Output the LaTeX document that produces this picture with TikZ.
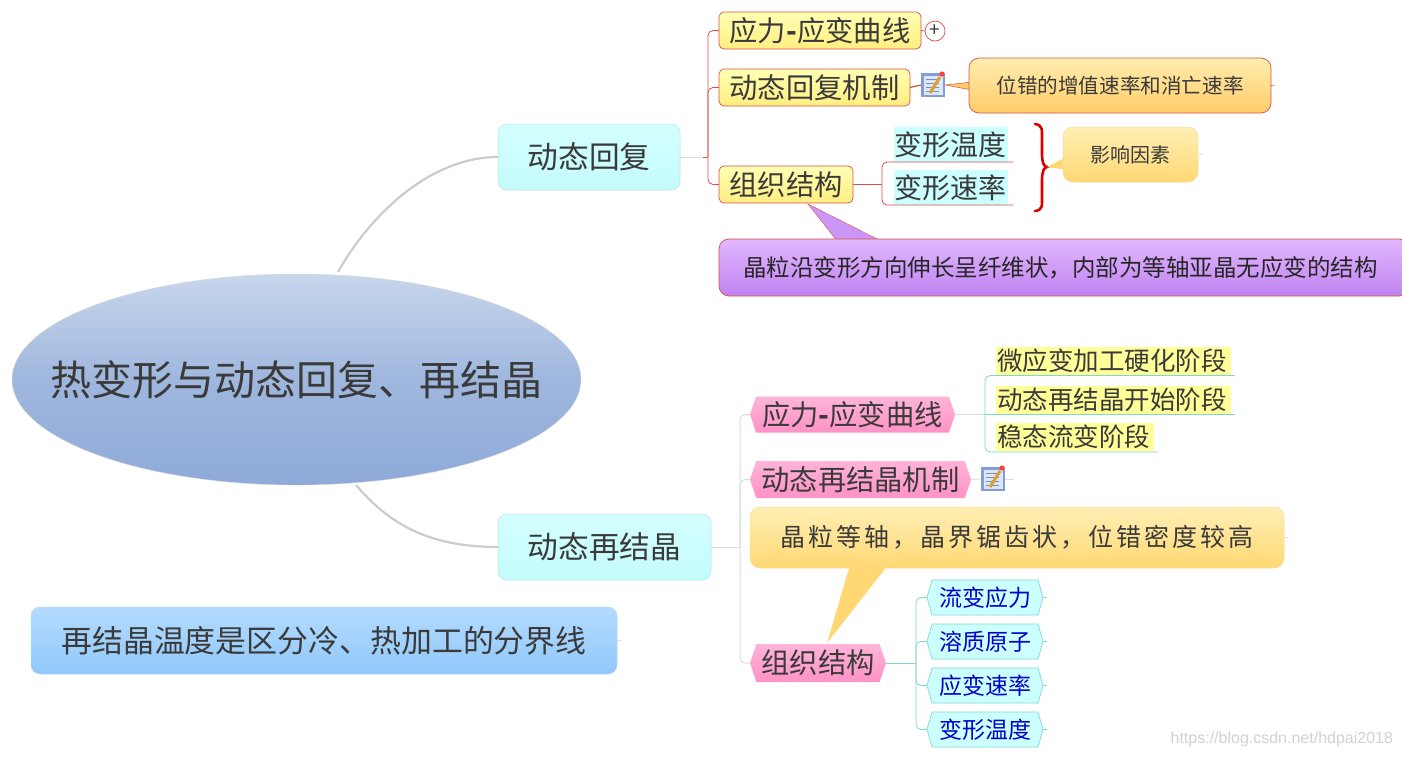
\documentclass[tikz,border=0pt]{standalone}
\usepackage{fontspec}
\setmainfont{Noto Sans CJK SC}
\newfontfamily\spaced[LetterSpace=12]{Noto Sans CJK SC}
\newfontfamily\latinwm{Liberation Sans}
\usetikzlibrary{shapes.geometric,shapes.symbols}
\definecolor{txt}{HTML}{3A3A3A}
\definecolor{redl}{HTML}{D8504A}
\definecolor{grayl}{HTML}{D9DEDE}
\definecolor{teall}{HTML}{7FD8D0}
\definecolor{cyantop}{HTML}{D4FFFF}
\definecolor{cyanbot}{HTML}{C4FBFB}
\definecolor{cyanedge}{HTML}{B4E4E4}
\definecolor{cyanfill}{HTML}{CCFFFF}
\definecolor{yeltop}{HTML}{FFFFB4}
\definecolor{yelbot}{HTML}{FFEE80}
\definecolor{oratop}{HTML}{FFEDB0}
\definecolor{orabot}{HTML}{FFCC68}
\definecolor{orbtop}{HTML}{FFEFB4}
\definecolor{orbbot}{HTML}{FFD874}
\definecolor{orbedge}{HTML}{F2DE9C}
\definecolor{purtop}{HTML}{E2B8FF}
\definecolor{purbot}{HTML}{BF82F0}
\definecolor{purtail}{HTML}{CB96F6}
\definecolor{pinktop}{HTML}{FFB4D8}
\definecolor{pinkbot}{HTML}{FF92C6}
\definecolor{eltop}{HTML}{C8D6EC}
\definecolor{elbot}{HTML}{8EAAD8}
\definecolor{bluetop}{HTML}{B4DBFF}
\definecolor{bluebot}{HTML}{90C8FA}
\definecolor{softyel}{HTML}{FFFF99}
\definecolor{iconframe}{HTML}{7F9FD6}
\definecolor{iconpage}{HTML}{DCE6F6}
\definecolor{iconline}{HTML}{7C8FB8}
\definecolor{iconpen}{HTML}{E0A030}
\newcommand{\fs}[1]{\fontsize{#1}{#1}\selectfont}
\tikzset{
  x=1pt,y=-1pt,
  every node/.style={inner sep=0pt,outer sep=0pt,text=txt},
  cyanbox/.style={rectangle,rounded corners=9pt,draw=cyanedge,line width=.5pt,top color=cyantop,bottom color=cyanbot,font=\fs{30.7}},
  yellowbox/.style={rectangle,rounded corners=5pt,draw=redl,line width=.7pt,top color=yeltop,bottom color=yelbot,font=\fs{28.3}},
  pinkhex/.style={signal,signal to=east and west,signal pointer angle=143,top color=pinktop,bottom color=pinkbot,font=\fs{28.3}},
  bluehex/.style={signal,signal to=east and west,signal pointer angle=148,draw=teall,line width=.7pt,fill=cyanfill,text=blue!80!black,font=\fs{23}},
  rline/.style={draw=redl,line width=.8pt,rounded corners=5pt},
  gline/.style={draw=grayl,line width=1pt,rounded corners=5pt},
  tline/.style={draw=teall,line width=.8pt,rounded corners=5pt},
  curve/.style={draw=gray!40,line width=2.2pt},
  pics/noteicon/.style={code={
    \fill[iconframe] (-12,-12) rectangle (12,12);
    \fill[iconpage] (-9.5,-9.5) rectangle (9.5,9.5);
    \foreach \yy in {-6,-2,2,6}{\draw[iconline,line width=.6pt] (-7,\yy) -- (6,\yy);}
    \draw[iconpen,line width=3pt] (-3,8) -- (7,-8);
    \fill[red!75] (9,-11) circle (2.6);
  }}
}
\begin{document}
\begin{tikzpicture}
\useasboundingbox (0,0) rectangle (1402,756);
\fill[white] (0,0) rectangle (1402,756);

% main topic
\node[ellipse,minimum width=569pt,minimum height=211pt,top color=eltop,bottom color=elbot,middle color=elbot!70!eltop,
  draw=gray!30,line width=.4pt] (root) at (296.5,379.5) {};
\node[font=\fs{41}] (rootlabel) at (root.center) {热变形与动态回复、再结晶};

\node[cyanbox,minimum width=182pt,minimum height=66pt] (dh) at (589,157) {动态回复};
\node[cyanbox,minimum width=213pt,minimum height=66pt] (dr) at (604.5,547) {动态再结晶};
\node[rectangle,rounded corners=9pt,draw=bluebot!70!white,line width=.5pt,top color=bluetop,bottom color=bluebot,
  minimum width=586pt,minimum height=67pt,font=\fs{30.9}] (blue) at (324,640.5) {再结晶温度是区分冷、热加工的分界线};

\coordinate (r1) at (338,272);
\coordinate (r2) at (356,485);
\draw[curve] (r1) .. controls (370,215) and (430,157) .. (dh.west);
\draw[curve] (r2) .. controls (390,525) and (430,547) .. (dr.west);

% upper branch
\coordinate (busA) at (708,157);
\node[yellowbox,minimum width=202pt,minimum height=37pt] (y1) at (820,30.5) {应力{\bfseries -}应变曲线};
\node[yellowbox,minimum width=191pt,minimum height=37pt] (y2) at (814.5,87.5) {动态回复机制};
\node[yellowbox,minimum width=134pt,minimum height=37pt] (y3) at (786,184.5) {组织结构};
\draw[gline] (dh.east) -- (busA);
\draw[rline] (busA) |- (y1.west);
\draw[rline] (busA) |- (y2.west);
\draw[rline] (busA) |- (y3.west);
\draw[redl,line width=.8pt] (703,157) -- (busA);

\node[circle,draw=redl,line width=.7pt,fill=white,minimum size=20pt,font=\fs{19}] (plus) at (935,31) {+};
\draw[rline] (y1.east) -- (plus.west);

\node[minimum size=24pt] (note1) at (933,85) {};
\draw[redl,line width=1.2pt] (y2.east) -- (note1.west);
\coordinate (tailA) at (945,85);
\fill[orabot,draw=redl,line width=.5pt] (tailA) -- (972,82) -- (972,90) -- cycle;
\pic at (note1) {noteicon};
\node[rectangle,rounded corners=10pt,top color=oratop,bottom color=orabot,draw=redl,line width=.7pt,minimum width=302pt,minimum height=55pt,font=\fs{20.6}] (o1) at (1120,85.5) {位错的增值速率和消亡速率};
\coordinate (e1) at (1275,85);
\draw[redl,line width=.6pt] (o1.east) -- (e1);

% factors
\fill[cyanfill] (894,127) rectangle (1008,162);
\fill[cyanfill] (894,170) rectangle (1008,205);
\node[font=\fs{28}] (f1) at (950,145) {变形温度};
\node[font=\fs{28}] (f2) at (950,188) {变形速率};
\coordinate (busB) at (882,184.5);
\coordinate (u1a) at (1013,162);
\coordinate (u2a) at (1013,205);
\draw[rline] (y3.east) -- (busB);
\draw[rline] (busB) |- (u1a);
\draw[rline] (busB) |- (u2a);

\coordinate (brT) at (1035,124);
\coordinate (brB) at (1035,211);
\coordinate (brTip) at (1047,167);
\draw[red!85!black,line width=2.6pt,line cap=round] (brT) .. controls (1043,125) and (1042,130) .. (1042,140)
  -- (1042,155) .. controls (1042,162) and (1044,167) .. (brTip) .. controls (1044,167) and (1042,172) .. (1042,180)
  -- (1042,195) .. controls (1042,206) and (1043,210) .. (brB);
\fill[orbbot] (brTip) -- (1068,156) -- (1068,170) -- cycle;
\node[rectangle,rounded corners=10pt,top color=orbtop,bottom color=orbbot,draw=orbedge,line width=.5pt,minimum width=135pt,minimum height=55pt,font=\fs{20}] (o2) at (1130.5,154.5) {影响因素};
\coordinate (e2) at (1202,154.5);
\draw[grayl,line width=.6pt] (o2.east) -- (e2);

% purple callout
\coordinate (pTip) at (808,204);
\fill[purtail,draw=redl,line width=.4pt] (pTip) -- (838,242) -- (883,242) -- cycle;
\node[rectangle,rounded corners=10pt,draw=redl,line width=.7pt,top color=purtop,bottom color=purbot,
  minimum width=690pt,minimum height=57pt,font=\fs{23.5},text=black!85] (p1) at (1064,267.5) {\hspace{-7pt}\makebox[635pt][c]{晶粒沿变形方向伸长呈纤维状，内部为等轴亚晶无应变的结构}\hspace{39pt}};

% lower branch
\coordinate (busC) at (740,547);
\node[pinkhex,minimum width=205pt,minimum height=36pt] (h1) at (852.5,414.5) {应力{\bfseries -}应变曲线};
\node[pinkhex,minimum width=221pt,minimum height=37pt] (h2) at (860.5,479.5) {动态再结晶机制};
\node[pinkhex,minimum width=136pt,minimum height=38pt] (h3) at (818,663) {组织结构};
\draw[gline] (dr.east) -- (busC);
\draw[gline] (busC) |- (h1.west);
\draw[gline] (busC) |- (h2.west);
\draw[gline] (busC) |- (h3.west);

\coordinate (busD) at (985,414.5);
\fill[softyel] (996,347) rectangle (1231,375);
\fill[softyel] (996,386) rectangle (1231,414);
\fill[softyel] (996,423) rectangle (1154,451);
\node[font=\fs{25.5}] (s1) at (1112,361) {微应变加工硬化阶段};
\node[font=\fs{25.5}] (s2) at (1112,400) {动态再结晶开始阶段};
\node[font=\fs{25.5}] (s3) at (1073.5,437) {稳态流变阶段};
\coordinate (u1) at (1235,375.5);
\coordinate (u2) at (1235,414.5);
\coordinate (u3) at (1158,452);
\draw[grayl,line width=.8pt] (h1.east) -- (busD);
\draw[tline] (busD) -- (u2);
\draw[tline] (busD) |- (u1);
\draw[tline] (busD) |- (u3);

\node[minimum size=24pt] (note2) at (993,479) {};
\coordinate (e3) at (1014,479);
\draw[grayl,line width=.8pt] (h2.east) -- (note2.west);
\draw[grayl,line width=.8pt] (note2.east) -- (e3);
\pic at (note2) {noteicon};

% orange callout
\coordinate (oTip) at (827,643);
\fill[orbbot] (oTip) -- (850,565) -- (888,565) -- cycle;
\node[rectangle,rounded corners=10pt,draw=orbedge,line width=.5pt,top color=orbtop,bottom color=orbbot,
  minimum width=534pt,minimum height=61pt,font=\fs{25}\spaced] (o3) at (1017,537.5) {晶粒等轴，晶界锯齿状，位错密度较高};
\coordinate (e4) at (1288,537.5);
\draw[grayl,line width=.6pt] (o3.east) -- (e4);
\coordinate (e5) at (621,640.5);
\draw[grayl,line width=.6pt] (blue.east) -- (e5);

% blue hex children
\coordinate (busE) at (916,663);
\node[bluehex,minimum width=116pt,minimum height=35pt] (b1) at (985,597.5) {流变应力};
\node[bluehex,minimum width=116pt,minimum height=35pt] (b2) at (985,641.5) {溶质原子};
\node[bluehex,minimum width=116pt,minimum height=35pt] (b3) at (985,685.5) {应变速率};
\node[bluehex,minimum width=116pt,minimum height=35pt] (b4) at (985,729.5) {变形温度};
\draw[tline] (h3.east) -- (busE);
\foreach \n in {b1,b2,b3,b4}{
  \draw[tline] (busE) |- (\n.west);
  \draw[teall,line width=.6pt] (\n.east) -- ++(4,0);
}

% watermark
\node[anchor=east,text=gray!35,font=\fs{16}\latinwm] (wm) at (1393,739) {https://blog.csdn.net/hdpai2018};
\end{tikzpicture}
\end{document}
